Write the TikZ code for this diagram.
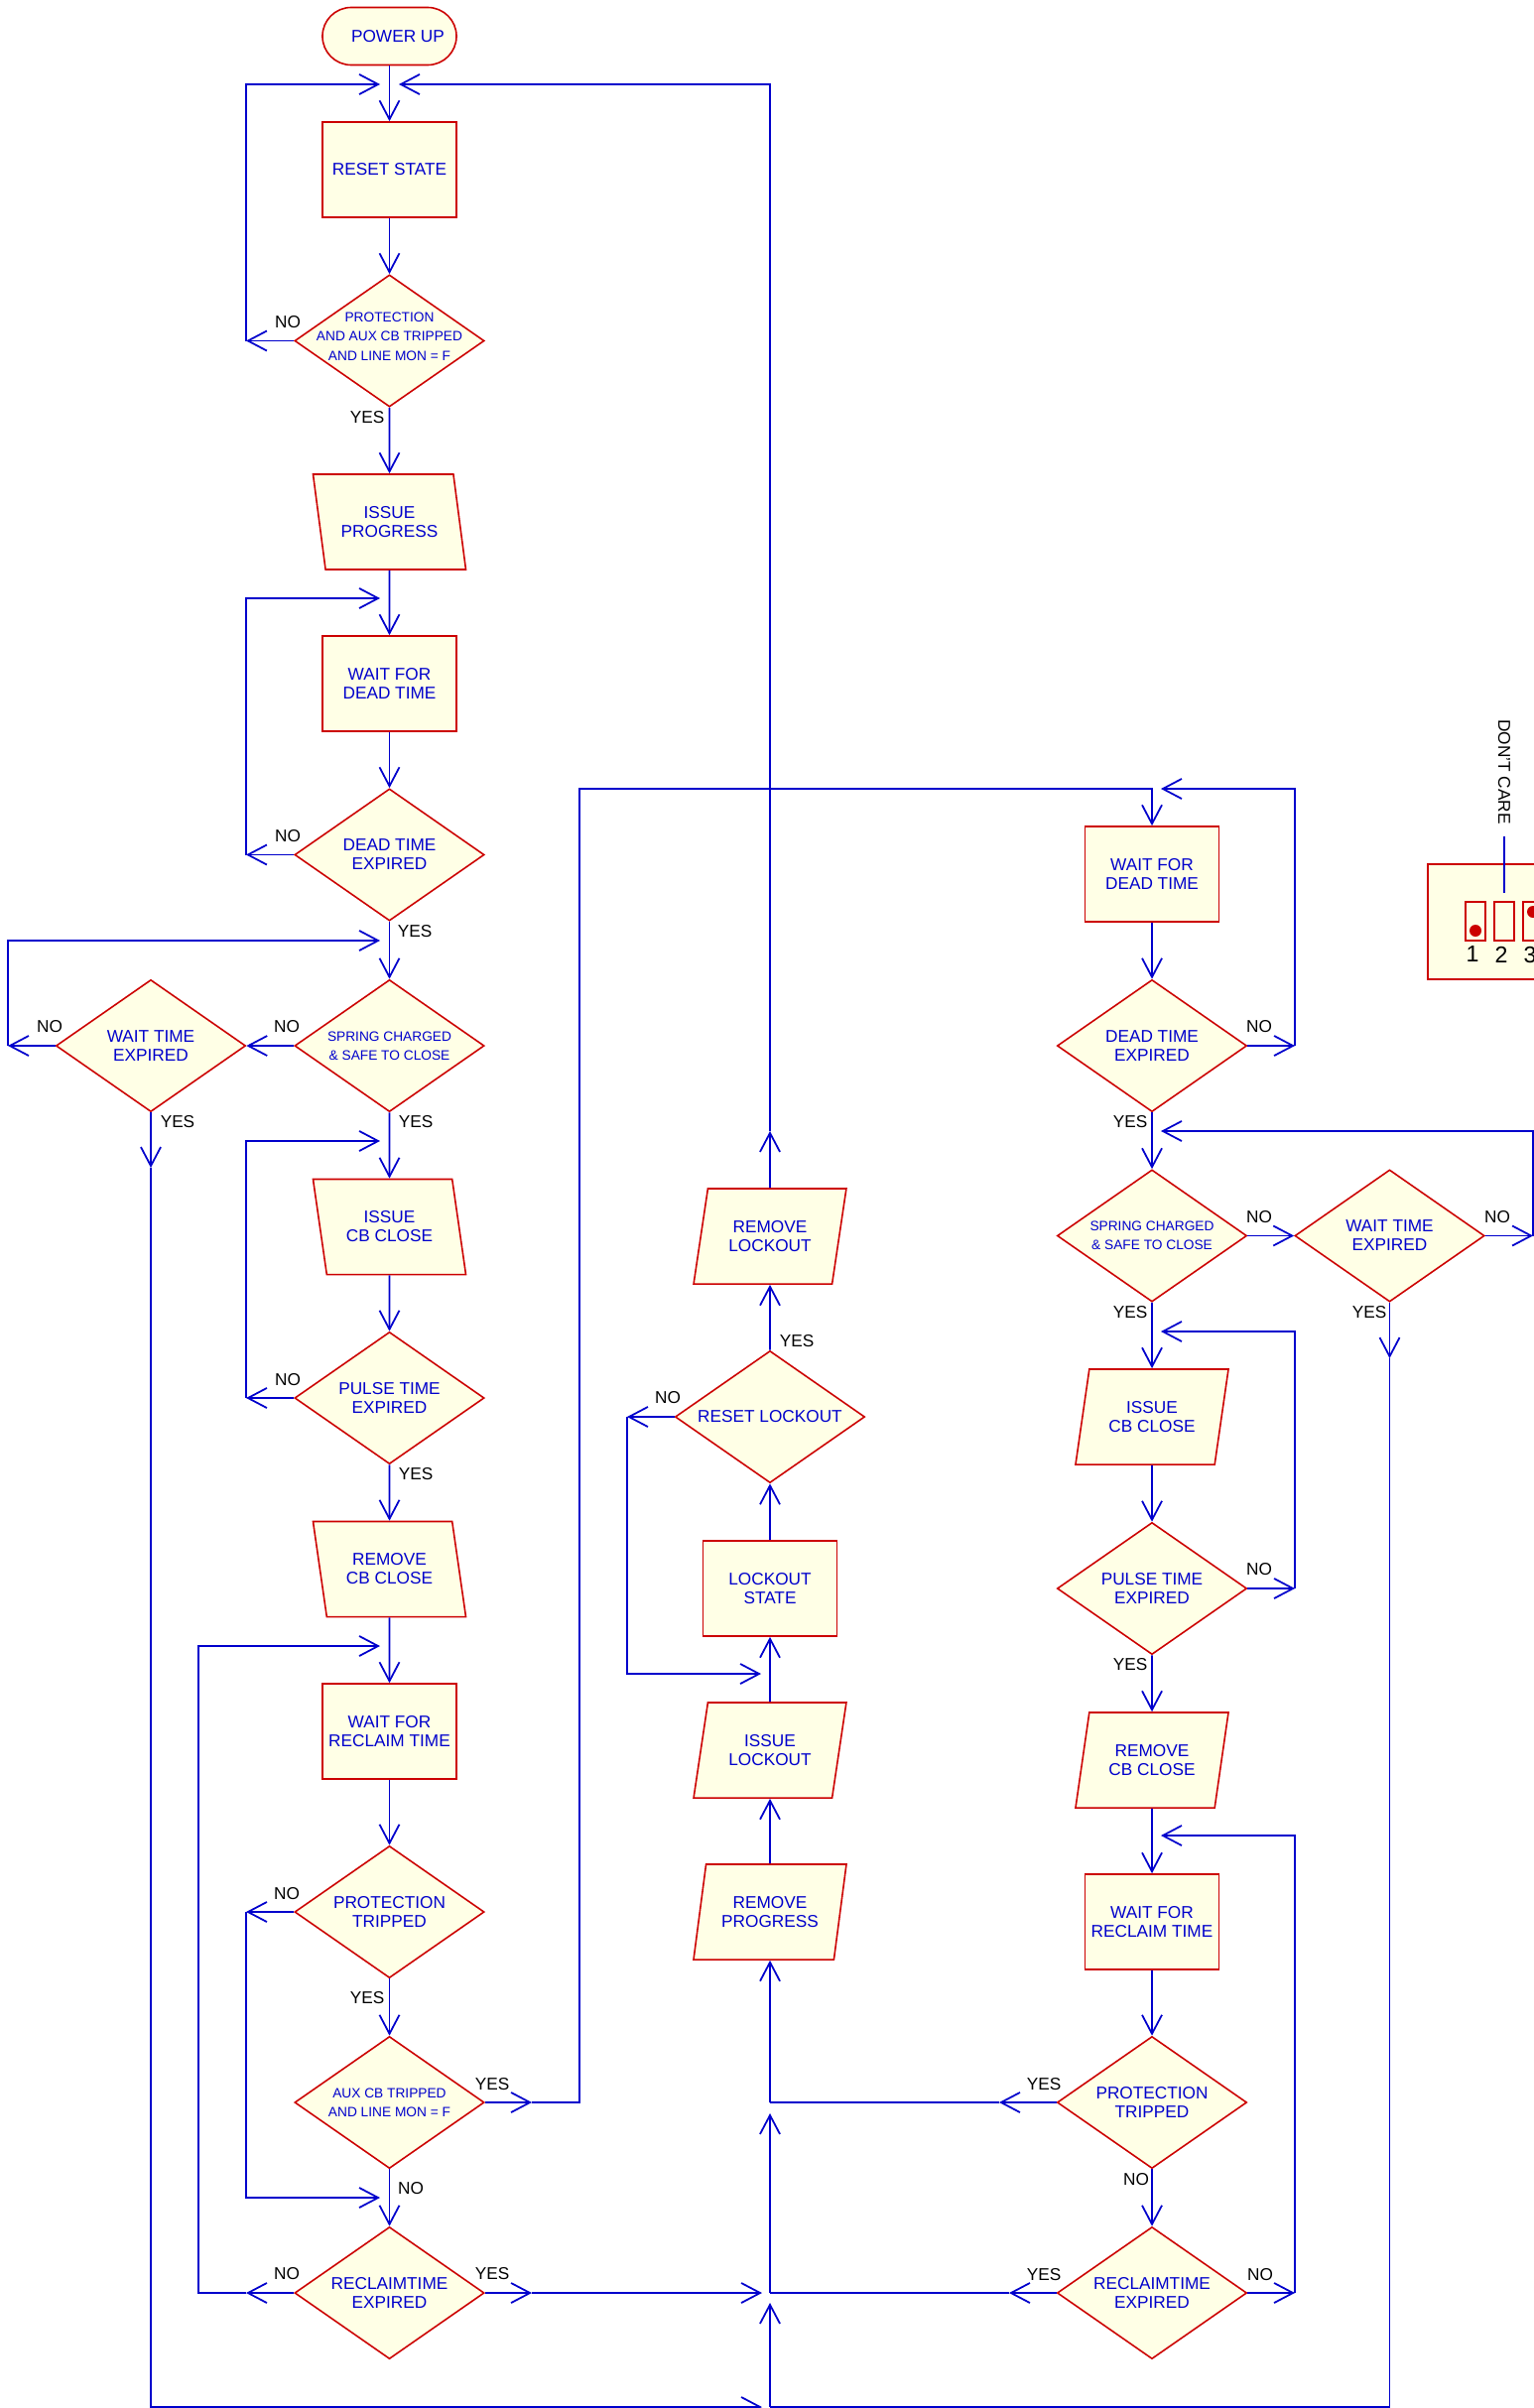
\documentclass[tikz,border=0pt]{standalone}
\usepackage{fontspec}
\setmainfont{Liberation Sans}
\usetikzlibrary{shapes.geometric,arrows.meta}

\definecolor{flowblue}{RGB}{0,0,204}
\definecolor{boxred}{RGB}{204,0,0}
\definecolor{boxfill}{RGB}{255,255,230}

\tikzset{
  block/.style={draw=boxred, fill=boxfill, line width=0.45pt, text=flowblue,
    inner sep=0pt, align=center, font=\fontsize{4.9}{5.4}\selectfont},
  term/.style={block, rounded corners=2.9mm, minimum width=1.35cm, minimum height=0.58cm},
  proc/.style={block, minimum width=1.35cm, minimum height=0.96cm},
  io/.style={block, trapezium, trapezium left angle=73, trapezium right angle=107,
    trapezium stretches=true, minimum width=1.54cm, minimum height=0.96cm},
  ioback/.style={io, trapezium left angle=107, trapezium right angle=73},
  decide/.style={block, diamond, aspect=1.44, minimum width=1.91cm, minimum height=1.33cm},
  tinytext/.style={font=\fontsize{3.9}{5.5}\selectfont},
  wire/.style={draw=flowblue, line width=0.5pt},
  flow/.style={wire, -{Straight Barb[length=1.9mm, width=2mm]}},
  lbl/.style={inner sep=0pt, font=\fontsize{4.9}{5.4}\selectfont},
}

\begin{document}
\begin{tikzpicture}[x=0.01cm, y=-0.01cm]
  \useasboundingbox (0,0) rectangle (1546,2427);
  \clip (0,0) rectangle (1546,2427);

  % first shot, left column
  \node[term] (power) at (392.5,36.5) {\hspace{1.7mm}POWER UP};
  \node[proc] (reset) at (392.5,171) {RESET STATE};
  \node[decide, tinytext, inner xsep=-2mm] (prot1) at (392.5,343.5) {PROTECTION\\AND AUX CB TRIPPED\\AND LINE MON = F\\[-3pt]};
  \node[ioback] (issprog) at (392.5,526) {ISSUE\\PROGRESS};
  \node[proc] (waitdead) at (392.5,689) {WAIT FOR\\DEAD TIME};
  \node[decide] (deadexp) at (392.5,861.5) {DEAD TIME\\EXPIRED};
  \node[decide, tinytext] (spring) at (392.5,1054) {SPRING CHARGED\\\& SAFE TO CLOSE};
  \node[decide] (waitexp) at (152,1054) {WAIT TIME\\EXPIRED};
  \node[ioback] (issclose) at (392.5,1236.5) {ISSUE\\CB CLOSE};
  \node[decide] (pulse) at (392.5,1409) {PULSE TIME\\EXPIRED};
  \node[ioback] (remclose) at (392.5,1581.5) {REMOVE\\CB CLOSE};
  \node[proc] (waitrecl) at (392.5,1745) {WAIT FOR\\RECLAIM TIME};
  \node[decide] (prottrip) at (392.5,1927) {PROTECTION\\TRIPPED};
  \node[decide, tinytext] (aux) at (392.5,2119) {AUX CB TRIPPED\\AND LINE MON = F};
  \node[decide] (reclexp) at (392.5,2311) {RECLAIMTIME\\EXPIRED};

  % lockout column
  \node[io] (remlock) at (776,1246) {REMOVE\\LOCKOUT};
  \node[decide] (resetlock) at (776,1428) {RESET LOCKOUT};
  \node[proc] (lockstate) at (776,1601) {LOCKOUT\\STATE};
  \node[io] (isslock) at (776,1764) {ISSUE\\LOCKOUT};
  \node[io] (remprog) at (776,1927) {REMOVE\\PROGRESS};

  % second shot, right column
  \node[proc] (rwaitdead) at (1161,881) {WAIT FOR\\DEAD TIME};
  \node[decide] (rdeadexp) at (1161,1054) {DEAD TIME\\EXPIRED};
  \node[decide, tinytext] (rspring) at (1161,1245.5) {SPRING CHARGED\\\& SAFE TO CLOSE};
  \node[decide] (rwaitexp) at (1400.5,1245.5) {WAIT TIME\\EXPIRED};
  \node[io] (rissclose) at (1161,1428) {ISSUE\\CB CLOSE};
  \node[decide] (rpulse) at (1161,1601) {PULSE TIME\\EXPIRED};
  \node[io] (rremclose) at (1161,1774) {REMOVE\\CB CLOSE};
  \node[proc] (rwaitrecl) at (1161,1937) {WAIT FOR\\RECLAIM TIME};
  \node[decide] (rprottrip) at (1161,2119) {PROTECTION\\TRIPPED};
  \node[decide] (rreclexp) at (1161,2311) {RECLAIMTIME\\EXPIRED};

  % yes / no
  \node[lbl] (no1) at (290,325) {NO};
  \node[lbl] (yes1) at (370,421) {YES};
  \node[lbl] (no2) at (290,843) {NO};
  \node[lbl] (yes2) at (418,939) {YES};
  \node[lbl] (no3) at (289,1035) {NO};
  \node[lbl] (no4) at (50,1035) {NO};
  \node[lbl] (yes3) at (419,1131) {YES};
  \node[lbl] (yes4) at (179,1131) {YES};
  \node[lbl] (no5) at (290,1391) {NO};
  \node[lbl] (yes5) at (419,1486) {YES};
  \node[lbl] (no6) at (289,1909) {NO};
  \node[lbl] (yes6) at (370,2014) {YES};
  \node[lbl] (yes7) at (496,2101) {YES};
  \node[lbl] (no7) at (414,2206) {NO};
  \node[lbl] (no8) at (289,2292) {NO};
  \node[lbl] (yes8) at (496,2292) {YES};
  \node[lbl] (no9) at (673,1409) {NO};
  \node[lbl] (yes9) at (803,1352) {YES};
  \node[lbl] (no10) at (1269,1035) {NO};
  \node[lbl] (yes10) at (1139,1131) {YES};
  \node[lbl] (no11) at (1269,1227) {NO};
  \node[lbl] (no12) at (1509,1227) {NO};
  \node[lbl] (yes11) at (1380,1323) {YES};
  \node[lbl] (yes12) at (1139,1323) {YES};
  \node[lbl] (no13) at (1269,1582) {NO};
  \node[lbl] (yes13) at (1139,1678) {YES};
  \node[lbl] (yes14) at (1052,2101) {YES};
  \node[lbl] (no14) at (1145,2197) {NO};
  \node[lbl] (yes15) at (1052,2293) {YES};
  \node[lbl] (no15) at (1270,2293) {NO};

  % bends and arrow stops
  \coordinate (topL) at (383,85);
  \coordinate (topR) at (402,85);
  \coordinate (no1a) at (248,343.5);
  \coordinate (no2a) at (248,861.5);
  \coordinate (in2) at (383,603);
  \coordinate (no4a) at (8,1054);
  \coordinate (in3) at (383,948);
  \coordinate (yes4a) at (152,1177);
  \coordinate (in4) at (383,1150);
  \coordinate (no5a) at (248,1409);
  \coordinate (in5) at (383,1659);
  \coordinate (no6a) at (248,1927);
  \coordinate (in6) at (383,2215);
  \coordinate (no8a) at (248,2311);
  \coordinate (no8b) at (200,2311);
  \coordinate (yes7a) at (536,2119);
  \coordinate (yes7b) at (584,795);
  \coordinate (yes8a) at (536,2311);
  \coordinate (yes8b) at (768,2311);
  \coordinate (bottomL) at (768,2426);
  \coordinate (no9a) at (632,1428);
  \coordinate (in9) at (767,1687);
  \coordinate (yes9a) at (776,1140);
  \coordinate (midlow) at (776,2426);
  \coordinate (midA) at (776,2321);
  \coordinate (midB) at (776,2311);
  \coordinate (midC) at (776,2130);
  \coordinate (midD) at (776,2119);
  \coordinate (no10a) at (1305,1054);
  \coordinate (rin1) at (1170,795);
  \coordinate (no12a) at (1545,1245.5);
  \coordinate (rin2) at (1170,1140);
  \coordinate (yes11a) at (1400.5,1369);
  \coordinate (no13a) at (1305,1601);
  \coordinate (rin3) at (1170,1342);
  \coordinate (yes14a) at (1007,2119);
  \coordinate (yes15a) at (1017,2311);
  \coordinate (no15a) at (1305,2311);
  \coordinate (rin4) at (1170,1850);

  % left column
  \draw[flow] (power) -- (reset);
  \draw[flow] (reset) -- (prot1);
  \draw[flow] (prot1) -- (issprog);
  \draw[flow] (issprog) -- (waitdead);
  \draw[flow] (waitdead) -- (deadexp);
  \draw[flow] (deadexp) -- (spring);
  \draw[flow] (spring) -- (issclose);
  \draw[flow] (issclose) -- (pulse);
  \draw[flow] (pulse) -- (remclose);
  \draw[flow] (remclose) -- (waitrecl);
  \draw[flow] (waitrecl) -- (prottrip);
  \draw[flow] (prottrip) -- (aux);
  \draw[flow] (aux) -- (reclexp);

  \draw[flow] (prot1.west) -- (no1a);
  \draw[flow] (no1a) |- (topL);
  \draw[flow] (deadexp.west) -- (no2a);
  \draw[flow] (no2a) |- (in2);
  \draw[flow] (spring.west) -- (waitexp.east);
  \draw[flow] (waitexp.west) -- (no4a);
  \draw[flow] (no4a) |- (in3);
  \draw[flow] (waitexp.south) -- (yes4a);
  \draw[flow] (yes4a) |- (bottomL);
  \draw[flow] (pulse.west) -- (no5a);
  \draw[flow] (no5a) |- (in4);
  \draw[flow] (prottrip.west) -- (no6a);
  \draw[flow] (no6a) |- (in6);
  \draw[flow] (reclexp.west) -- (no8a);
  \draw[flow] (no8a) -- (no8b) |- (in5);
  \draw[flow] (aux.east) -- (yes7a);
  \draw[flow] (yes7a) -| (yes7b) -| (rwaitdead.north);
  \draw[flow] (reclexp.east) -- (yes8a);
  \draw[flow] (yes8a) -- (yes8b);

  % lockout column
  \draw[flow] (midlow) -- (midA);
  \draw[flow] (midB) -- (midC);
  \draw[flow] (midD) -- (remprog);
  \draw[flow] (remprog) -- (isslock);
  \draw[flow] (isslock) -- (lockstate);
  \draw[flow] (lockstate) -- (resetlock);
  \draw[flow] (resetlock) -- (remlock);
  \draw[flow] (resetlock.west) -- (no9a);
  \draw[flow] (no9a) |- (in9);
  \draw[flow] (remlock) -- (yes9a);
  \draw[flow] (yes9a) |- (topR);

  % right column
  \draw[flow] (rwaitdead) -- (rdeadexp);
  \draw[flow] (rdeadexp) -- (rspring);
  \draw[flow] (rspring) -- (rissclose);
  \draw[flow] (rissclose) -- (rpulse);
  \draw[flow] (rpulse) -- (rremclose);
  \draw[flow] (rremclose) -- (rwaitrecl);
  \draw[flow] (rwaitrecl) -- (rprottrip);
  \draw[flow] (rprottrip) -- (rreclexp);
  \draw[flow] (rspring.east) -- (rwaitexp.west);

  \draw[flow] (rdeadexp.east) -- (no10a);
  \draw[flow] (no10a) |- (rin1);
  \draw[flow] (rwaitexp.east) -- (no12a);
  \draw[flow] (no12a) |- (rin2);
  \draw[flow] (rwaitexp.south) -- (yes11a);
  \draw[wire] (yes11a) |- (midlow);
  \draw[flow] (rpulse.east) -- (no13a);
  \draw[flow] (no13a) |- (rin3);
  \draw[flow] (rprottrip.west) -- (yes14a);
  \draw[wire] (yes14a) -- (midD);
  \draw[flow] (rreclexp.west) -- (yes15a);
  \draw[wire] (yes15a) -- (midB);
  \draw[flow] (rreclexp.east) -- (no15a);
  \draw[flow] (no15a) |- (rin4);

  % dip switch settings
  \draw[draw=boxred, fill=boxfill, line width=0.45pt] (1439,871) rectangle (1600,987);
  \draw[draw=boxred, line width=0.45pt] (1477,909) rectangle (1497,948);
  \draw[draw=boxred, line width=0.45pt] (1506,909) rectangle (1526,948);
  \draw[draw=boxred, line width=0.45pt] (1535,909) rectangle (1555,948);
  \fill[boxred] (1487,938) circle [radius=0.6mm];
  \fill[boxred] (1545,919) circle [radius=0.6mm];
  \node[lbl, font=\fontsize{6.6}{7}\selectfont] (sw1) at (1484,962) {1};
  \node[lbl, font=\fontsize{6.6}{7}\selectfont] (sw2) at (1513,962) {2};
  \node[lbl, font=\fontsize{6.6}{7}\selectfont] (sw3) at (1542,962) {3};
  \coordinate (sw2top) at (1516,900);
  \draw[wire] (sw2top) -- ++(0,-57);
  \node[lbl, rotate=-90] (dontcare) at (1516,778) {DON'T CARE};
\end{tikzpicture}
\end{document}
